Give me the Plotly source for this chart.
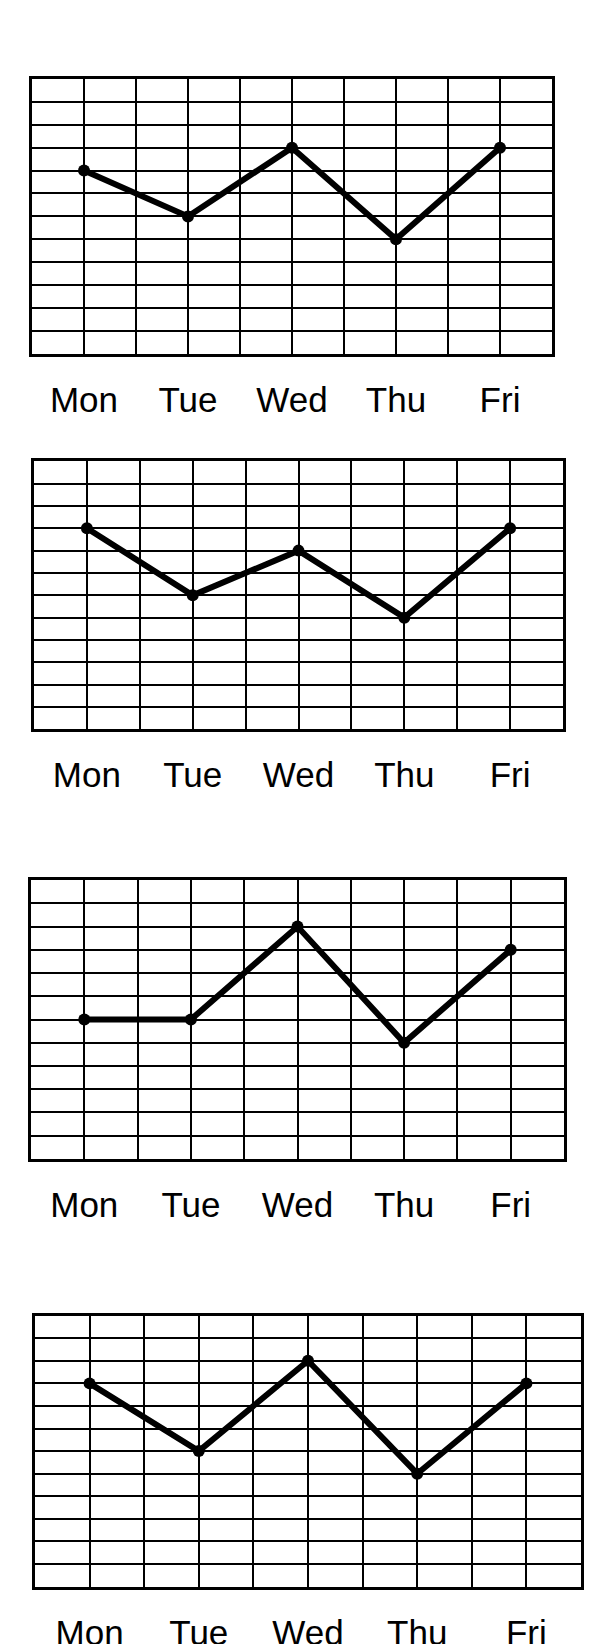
import plotly.graph_objects as go

W, H = 608, 1644

days = ["Mon", "Tue", "Wed", "Thu", "Fri"]
panel1 = [8, 6, 9, 5, 9]
panel2 = [9, 6, 8, 5, 9]
panel3 = [6, 6, 10, 5, 9]
panel4 = [9, 6, 10, 5, 9]
series = [panel1, panel2, panel3, panel4]

# panel boxes in pixels: (left, top, right, bottom)
boxes = [(24, 72, 544, 351), (26, 460, 555, 732), (23, 885, 556, 1168), (27, 1327, 573, 1602)]

fig = go.Figure()
idx = list(range(len(days)))
for i, (vals, (l, t, r, b)) in enumerate(zip(series, boxes)):
    n = "" if i == 0 else str(i + 1)
    fig.add_trace(go.Scatter(
        x=idx, y=vals, mode="lines+markers",
        line=dict(color="black", width=6),
        marker=dict(color="black", size=12),
        xaxis="x" + n, yaxis="y" + n, showlegend=False, cliponaxis=False,
    ))
    fig.update_layout(**{
        "xaxis" + n: dict(
            domain=[l / W, r / W], anchor="y" + n,
            range=[-0.5, len(days) - 0.5],
            tickmode="array", tickvals=idx, ticktext=days,
            showgrid=True, gridcolor="black", gridwidth=2,
            minor=dict(dtick=0.5, tick0=-0.5, showgrid=True, gridcolor="black", gridwidth=2),
            showline=True, linecolor="black", linewidth=3, mirror=True,
            ticks="", zeroline=False, ticklabelstandoff=13,
            tickfont=dict(family="Liberation Sans, Arial", size=35, color="black"),
            fixedrange=True,
        ),
        "yaxis" + n: dict(
            domain=[1 - b / H, 1 - t / H], anchor="x" + n,
            range=[0, 12], dtick=1, tick0=0,
            showgrid=True, gridcolor="black", gridwidth=2,
            showline=True, linecolor="black", linewidth=3, mirror=True,
            showticklabels=False, ticks="", zeroline=False, fixedrange=True,
        ),
    })

fig.update_layout(
    width=W, height=H, margin=dict(l=0, r=0, t=0, b=0),
    paper_bgcolor="white", plot_bgcolor="white",
)
fig.write_html("out.html")
